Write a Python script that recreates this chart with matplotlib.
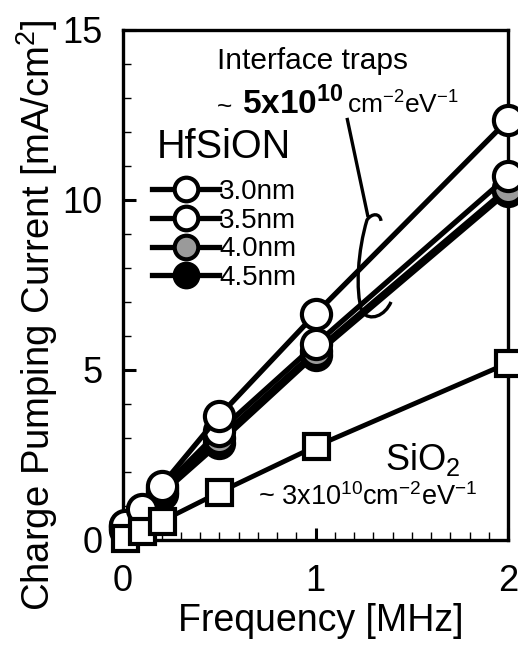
import matplotlib
matplotlib.use('Agg')
import matplotlib.pyplot as plt
from matplotlib.lines import Line2D
from matplotlib.path import Path
from matplotlib.patches import PathPatch
from matplotlib.offsetbox import TextArea, HPacker, AnnotationBbox
from matplotlib.ticker import MultipleLocator

plt.rcParams['font.family'] = ['Liberation Sans', 'DejaVu Sans']
plt.rcParams['mathtext.fontset'] = 'custom'
plt.rcParams['mathtext.rm'] = 'Liberation Sans'
plt.rcParams['mathtext.it'] = 'Liberation Sans:italic'
plt.rcParams['mathtext.bf'] = 'Liberation Sans:bold'

# frequency [MHz]
freq = [0.01, 0.1, 0.2, 0.5, 1.0, 2.0]
# charge pumping current [mA/cm2]
hf_30 = [0.45, 0.9, 1.6, 3.65, 6.65, 12.35]
hf_35 = [0.4, 0.85, 1.5, 3.2, 5.75, 10.7]
hf_40 = [0.35, 0.8, 1.4, 3.0, 5.55, 10.35]
hf_45 = [0.3, 0.75, 1.35, 2.85, 5.45, 10.25]
sio2 = [0.05, 0.25, 0.55, 1.4, 2.75, 5.2]

labels = ['3.0nm', '3.5nm', '4.0nm', '4.5nm']
faces = ['white', 'white', '#9a9a9a', 'black']

fig = plt.figure(figsize=(5.18, 6.49), dpi=100)
ax = fig.add_axes([0.2375, 0.168, 0.7432, 0.786])

series = [hf_30, hf_35, hf_40, hf_45]
# draw thick films first so the white ones sit on top
for vals, fc, lab in reversed(list(zip(series, faces, labels))):
    ax.plot(freq, vals, '-o', color='black', lw=3.8, ms=21, mew=3,
            mfc=fc, mec='black', clip_on=False, zorder=3)
ax.plot(freq, sio2, '-s', color='black', lw=3.5, ms=18, mew=3,
        mfc='white', mec='black', clip_on=False, zorder=3)

ax.set_xlim(0, 2)
ax.set_ylim(0, 15)
ax.xaxis.set_major_locator(MultipleLocator(1))
ax.xaxis.set_minor_locator(MultipleLocator(0.1))
ax.yaxis.set_major_locator(MultipleLocator(5))
ax.yaxis.set_minor_locator(MultipleLocator(1))
ax.tick_params(which='both', direction='in', top=False, right=False)
ax.tick_params(axis='y', which='major', length=9, width=2.2, pad=15, labelsize=26)
ax.tick_params(axis='x', which='major', length=9, width=2.2, pad=17, labelsize=26)
ax.tick_params(which='minor', length=6, width=1)
for s in ax.spines.values():
    s.set_linewidth(2.4)

ax.set_xlabel('Frequency [MHz]', fontsize=27)
ax.set_ylabel('Charge Pumping Current [mA/cm$^2$]', fontsize=27.5)
ax.xaxis.set_label_coords(0.514, -0.124)
ax.yaxis.set_label_coords(-0.165, 0.44)

# legend
ax.text(0.088, 0.771, 'HfSiON', transform=ax.transAxes,
        ha='left', va='center', fontsize=28.5)
handles = [Line2D([], [], color='black', lw=3.8, marker='o', ms=17, mew=3,
                  mfc=fc, mec='black') for fc in faces]
leg = ax.legend(handles, labels, loc='upper left', bbox_to_anchor=(0.076, 0.708),
                frameon=False, fontsize=20, handlelength=2.4,
                handletextpad=0.0, labelspacing=0.1,
                borderaxespad=0, borderpad=0)

# annotations
ax.text(0.491, 0.939, 'Interface traps', transform=ax.transAxes,
        ha='center', va='center', fontsize=21.5)
t1 = TextArea('~ ', textprops=dict(size=19))
t2 = TextArea(r'$\mathbf{5x10^{10}}$', textprops=dict(size=24))
t3 = TextArea(r'cm$^{-2}$eV$^{-1}$', textprops=dict(size=19))
box = HPacker(children=[t1, t2, t3], align='baseline', pad=0, sep=2)
ab = AnnotationBbox(box, (0.244, 0.855), xycoords='axes fraction',
                    frameon=False, box_alignment=(0, 0.5))
ax.add_artist(ab)

ax.text(0.68, 0.157, 'SiO$_2$', transform=ax.transAxes,
        ha='left', va='center', fontsize=26)
ax.text(0.351, 0.084, r'~ 3x10$^{10}$cm$^{-2}$eV$^{-1}$', transform=ax.transAxes,
        ha='left', va='center', fontsize=19.5)


# leader line and brace, given in pixel positions of the frame
def px(x, y):
    return ((x - 123) / 385, (540 - y) / 510)


verts = [px(347, 118), px(368, 217),
         px(381, 221), px(380, 213), px(372, 213), px(367, 220),
         px(358, 250), px(355, 290), px(362, 312),
         px(370, 322), px(385, 316), px(391, 302)]
codes = [Path.MOVETO, Path.LINETO,
         Path.MOVETO, Path.CURVE4, Path.CURVE4, Path.CURVE4,
         Path.CURVE4, Path.CURVE4, Path.CURVE4,
         Path.CURVE4, Path.CURVE4, Path.CURVE4]
ax.add_patch(PathPatch(Path(verts, codes), transform=ax.transAxes,
                       fill=False, lw=2.4, color='black', zorder=4))

fig.savefig('out.png', dpi=100)
